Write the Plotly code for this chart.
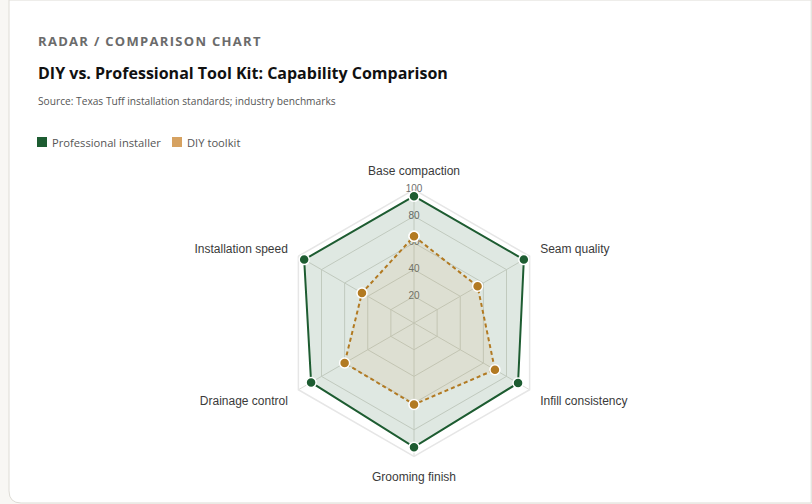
import plotly.graph_objects as go

categories = ["Base compaction", "Seam quality", "Infill consistency",
              "Grooming finish", "Drainage control", "Installation speed"]
professional = [95, 95, 90, 93, 89, 95]
diy = [65, 55, 70, 61, 60, 45]
radial_ticks = [20, 40, 60, 80, 100]
radial_tick_labels = ["20", "40", "60", "80", "100"]
series_names = ["Professional installer", "DIY toolkit"]

GREEN = "#1d5c31"
TAN_MARK = "#b27a22"
TAN_LEGEND = "#d6a261"
HEAD_FONT = "Open Sans, sans-serif"
CHART_FONT = "Liberation Sans, Arial, sans-serif"

fig = go.Figure()

# radial tick labels drawn through polar scale, under data
fig.add_trace(go.Scatterpolar(
    r=radial_ticks, theta=[categories[0]] * len(radial_ticks),
    mode="text", text=radial_tick_labels,
    textfont=dict(size=10, color="#6e6e6e", family=CHART_FONT),
    showlegend=False, hoverinfo="skip"))

def closed(v):
    return list(v) + [v[0]]

fig.add_trace(go.Scatterpolar(
    r=closed(professional), theta=closed(categories),
    mode="lines+markers", fill="toself",
    fillcolor="rgba(29,92,49,0.14)",
    line=dict(color=GREEN, width=2),
    marker=dict(size=10, color=GREEN, line=dict(color="white", width=1.5)),
    name=series_names[0], showlegend=False))

fig.add_trace(go.Scatterpolar(
    r=closed(diy), theta=closed(categories),
    mode="lines+markers", fill="toself",
    fillcolor="rgba(214,162,97,0.12)",
    line=dict(color=TAN_MARK, width=2, dash="4px,3px"),
    marker=dict(size=10, color=TAN_MARK, line=dict(color="white", width=1.5)),
    name=series_names[1], showlegend=False))

W, H = 812, 504
cx, cy, R = 414, 323, 133.5

def px(x):
    return x / W

def py(y):
    return 1 - y / H

hair = "\u200a"
eyebrow = hair.join("RADAR / COMPARISON CHART")

annotations = [
    dict(text="<b>" + eyebrow + "</b>",
         xref="paper", yref="paper", x=px(36), y=py(41),
         xanchor="left", yanchor="middle", showarrow=False,
         font=dict(size=13, color="#6b6b6b", family=HEAD_FONT)),
    dict(text="<b>DIY vs. Professional Tool Kit: Capability Comparison</b>",
         xref="paper", yref="paper", x=px(36), y=py(73),
         xanchor="left", yanchor="middle", showarrow=False,
         font=dict(size=16, color="#111", family=HEAD_FONT)),
    dict(text="Source: Texas Tuff installation standards; industry benchmarks",
         xref="paper", yref="paper", x=px(36), y=py(101),
         xanchor="left", yanchor="middle", showarrow=False,
         font=dict(size=10.2, color="#555", family=HEAD_FONT)),
]

# legend (swatch + label)
legend_x = [37, 172]
legend_cols = [GREEN, TAN_LEGEND]
shapes = [dict(type="path", xref="paper", yref="paper",
               path="M 0.0111,1 L 0.999,1 L 0.999,0.002 L 0.026,0.002 Q 0.0111,0.002 0.0111,0.026 Z",
               fillcolor="white", line=dict(color="#dedcd6", width=1),
               layer="below")]
for nm, col, lx in zip(series_names, legend_cols, legend_x):
    shapes.append(dict(type="rect", xref="paper", yref="paper",
                       x0=px(lx), x1=px(lx + 10), y0=py(147), y1=py(137),
                       fillcolor=col, line=dict(width=0), layer="above"))
    annotations.append(dict(text=nm, xref="paper", yref="paper",
                            x=px(lx + 13), y=py(142), xanchor="left",
                            yanchor="middle", showarrow=False,
                            font=dict(size=11.2, color="#555", family=HEAD_FONT)))

fig.update_layout(
    width=W, height=H,
    margin=dict(l=0, r=0, t=0, b=0),
    paper_bgcolor="#f8f7f4",
    plot_bgcolor="white",
    font=dict(family=CHART_FONT, color="#333"),
    polar=dict(
        domain=dict(x=[px(cx - R), px(cx + R)],
                    y=[py(cy + R), py(cy - R)]),
        bgcolor="rgba(0,0,0,0)",
        gridshape="linear",
        radialaxis=dict(range=[0, 100], tickvals=radial_ticks,
                        showticklabels=False, ticks="",
                        gridcolor="#dcdcd6", showline=False,
                        layer="below traces"),
        angularaxis=dict(rotation=90, direction="clockwise",
                         gridcolor="#dcdcd6", linecolor="#e6e6e6",
                         linewidth=1.5, ticks="outside", ticklen=9,
                         tickcolor="rgba(0,0,0,0)",
                         tickfont=dict(size=12, color="#3a3a3a",
                                       family=CHART_FONT),
                         layer="below traces"),
    ),
    showlegend=False,
    shapes=shapes,
    annotations=annotations,
)

fig.write_html("out.html")
